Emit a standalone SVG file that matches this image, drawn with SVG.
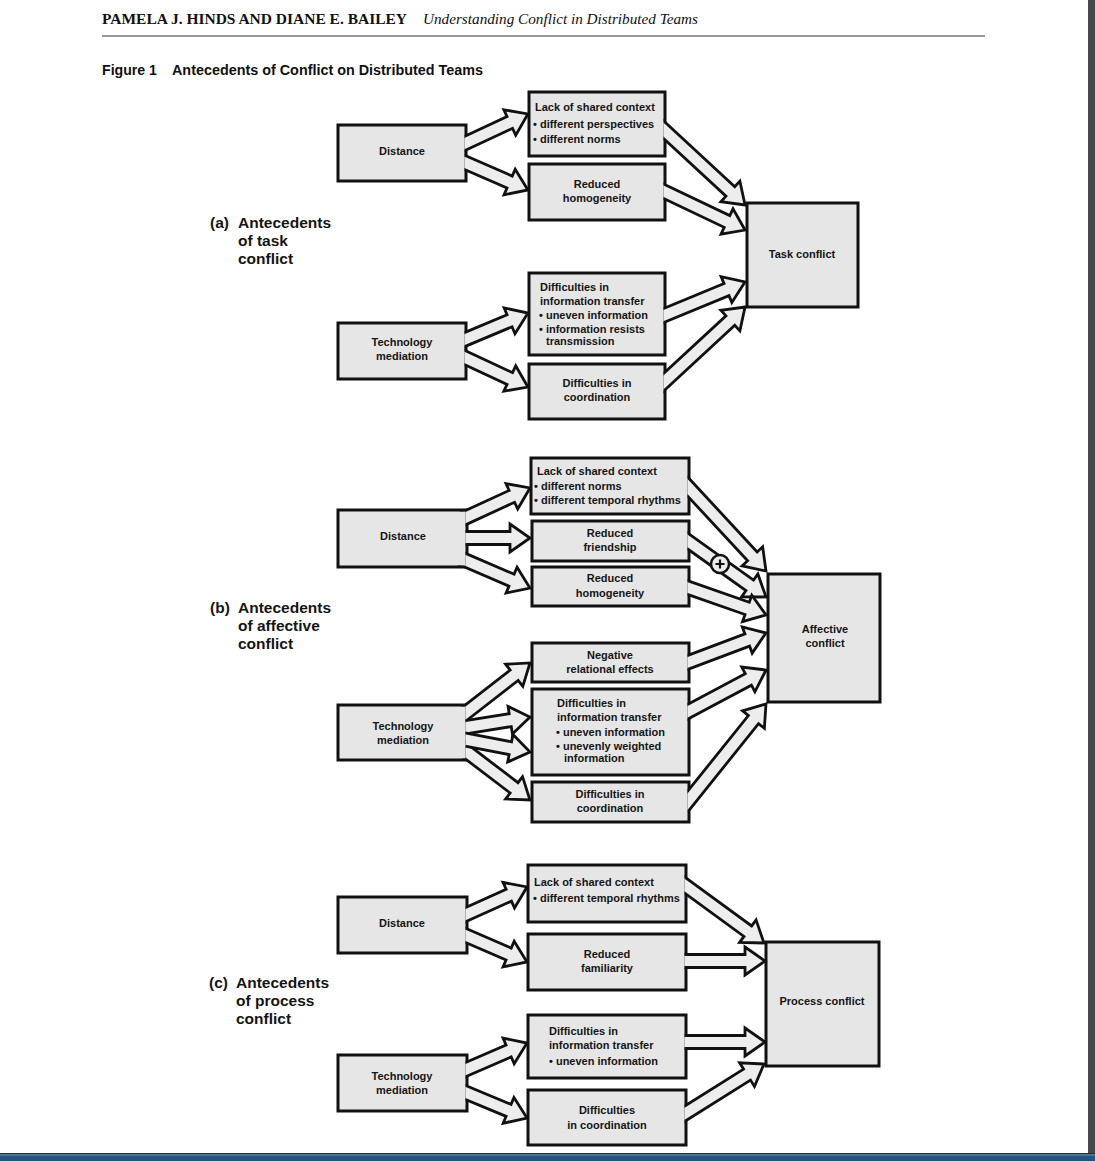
<svg xmlns="http://www.w3.org/2000/svg" width="1095" height="1161" viewBox="0 0 1095 1161">
<style>
.box{fill:#e6e6e6;stroke:#111;stroke-width:3}
.arr{fill:#ededed;stroke:#111;stroke-width:2.8;stroke-linejoin:miter}
.t{font-family:"Liberation Sans",Arial,sans-serif;font-weight:bold;font-size:11px;fill:#151515}
.c{text-anchor:middle}
.lab{font-family:"Liberation Sans",Arial,sans-serif;font-weight:bold;font-size:15.5px;fill:#151515}
</style>
<defs>
<clipPath id="cut">
<path clip-rule="evenodd" d="M0,0H1095V1161H0Z
M339.5,126.5h125v53h-125Z M530.5,93.5h133v61h-133Z M530.5,165.5h133v53h-133Z M530.5,274.5h133v79h-133Z M339.5,324.5h125v53h-125Z M530.5,365.5h133v52h-133Z
M339.5,511.5h126v54h-126Z M532.5,459.5h155v53h-155Z M533.5,522.5h154v37h-154Z M533.5,568.5h154v36h-154Z M533.5,644.5h154v36h-154Z M533.5,690.5h154v83h-154Z M339.5,706.5h126v52h-126Z M533.5,783.5h154v37h-154Z
M339.5,898.5h126v53h-126Z M529.5,866.5h155v54h-155Z M529.5,935.5h155v53h-155Z M529.5,1016.5h155v60h-155Z M339.5,1056.5h126v53h-126Z M529.5,1091.5h155v52h-155Z"/>
</clipPath>
</defs>
<rect width="1095" height="1161" fill="#fff"/>

<g id="header">
<text x="102" y="24" font-family="'Liberation Serif',serif" font-weight="bold" font-size="14.5" fill="#111" textLength="305" lengthAdjust="spacingAndGlyphs">PAMELA J. HINDS AND DIANE E. BAILEY</text>
<text x="423" y="24" font-family="'Liberation Serif',serif" font-style="italic" font-size="15" fill="#111" textLength="275" lengthAdjust="spacingAndGlyphs">Understanding Conflict in Distributed Teams</text>
<line x1="102" y1="36" x2="985" y2="36" stroke="#777" stroke-width="1.5"/>
<text x="102" y="75" font-family="'Liberation Sans',Arial,sans-serif" font-weight="bold" font-size="14" fill="#111" textLength="55" lengthAdjust="spacingAndGlyphs">Figure 1</text>
<text x="172" y="75" font-family="'Liberation Sans',Arial,sans-serif" font-weight="bold" font-size="14" fill="#111" textLength="311" lengthAdjust="spacingAndGlyphs">Antecedents of Conflict on Distributed Teams</text>
</g>

<g id="label-a" class="lab"><text x="210" y="228">(a)</text><text x="238" y="228">Antecedents</text><text x="238" y="246">of task</text><text x="238" y="264">conflict</text></g>
<g id="label-b" class="lab"><text x="210" y="613">(b)</text><text x="238" y="613">Antecedents</text><text x="238" y="631">of affective</text><text x="238" y="649">conflict</text></g>
<g id="label-c" class="lab"><text x="209" y="988">(c)</text><text x="236" y="988">Antecedents</text><text x="236" y="1006">of process</text><text x="236" y="1024">conflict</text></g>

<!-- Section a -->
<g id="a-distance"><rect class="box" x="338" y="125" width="128" height="56"/><text class="t c" x="402" y="155">Distance</text></g>
<g id="a-lack"><rect class="box" x="529" y="92" width="136" height="64"/><text class="t" x="535" y="111">Lack of shared context</text><text class="t" x="533" y="128">• different perspectives</text><text class="t" x="533" y="143">• different norms</text></g>
<g id="a-homog"><rect class="box" x="529" y="164" width="136" height="56"/><text class="t c" x="597" y="188">Reduced</text><text class="t c" x="597" y="202">homogeneity</text></g>
<g id="a-task"><rect class="box" x="747" y="203" width="111" height="104"/><text class="t c" x="802" y="258">Task conflict</text></g>
<g id="a-info"><rect class="box" x="529" y="273" width="136" height="82"/><text class="t" x="540" y="291">Difficulties in</text><text class="t" x="540" y="305">information transfer</text><text class="t" x="539" y="319">• uneven information</text><text class="t" x="539" y="333">• information resists</text><text class="t" x="546" y="345">transmission</text></g>
<g id="a-tech"><rect class="box" x="338" y="323" width="128" height="56"/><text class="t c" x="402" y="346">Technology</text><text class="t c" x="402" y="360">mediation</text></g>
<g id="a-coord"><rect class="box" x="529" y="364" width="136" height="55"/><text class="t c" x="597" y="387">Difficulties in</text><text class="t c" x="597" y="401">coordination</text></g>

<!-- Section b -->
<g id="b-distance"><rect class="box" x="338" y="510" width="129" height="57"/><text class="t c" x="403" y="540">Distance</text></g>
<g id="b-lack"><rect class="box" x="531" y="458" width="158" height="56"/><text class="t" x="537" y="475">Lack of shared context</text><text class="t" x="534" y="490">• different norms</text><text class="t" x="534" y="504">• different temporal rhythms</text></g>
<g id="b-friend"><rect class="box" x="532" y="521" width="157" height="40"/><text class="t c" x="610" y="537">Reduced</text><text class="t c" x="610" y="551">friendship</text></g>
<g id="b-homog"><rect class="box" x="532" y="567" width="157" height="39"/><text class="t c" x="610" y="582">Reduced</text><text class="t c" x="610" y="597">homogeneity</text></g>
<g id="b-affective"><rect class="box" x="768" y="574" width="112" height="128"/><text class="t c" x="825" y="633">Affective</text><text class="t c" x="825" y="647">conflict</text></g>
<g id="b-negative"><rect class="box" x="532" y="643" width="157" height="39"/><text class="t c" x="610" y="659">Negative</text><text class="t c" x="610" y="673">relational effects</text></g>
<g id="b-info"><rect class="box" x="532" y="689" width="157" height="86"/><text class="t" x="557" y="707">Difficulties in</text><text class="t" x="557" y="721">information transfer</text><text class="t" x="556" y="736">• uneven information</text><text class="t" x="556" y="750">• unevenly weighted</text><text class="t" x="564" y="762">information</text></g>
<g id="b-tech"><rect class="box" x="338" y="705" width="129" height="55"/><text class="t c" x="403" y="730">Technology</text><text class="t c" x="403" y="744">mediation</text></g>
<g id="b-coord"><rect class="box" x="532" y="782" width="157" height="40"/><text class="t c" x="610" y="798">Difficulties in</text><text class="t c" x="610" y="812">coordination</text></g>

<!-- Section c -->
<g id="c-distance"><rect class="box" x="338" y="897" width="129" height="56"/><text class="t c" x="402" y="927">Distance</text></g>
<g id="c-lack"><rect class="box" x="528" y="865" width="158" height="57"/><text class="t" x="534" y="886">Lack of shared context</text><text class="t" x="533" y="902">• different temporal rhythms</text></g>
<g id="c-familiar"><rect class="box" x="528" y="934" width="158" height="56"/><text class="t c" x="607" y="958">Reduced</text><text class="t c" x="607" y="972">familiarity</text></g>
<g id="c-process"><rect class="box" x="766" y="942" width="113" height="124"/><text class="t c" x="822" y="1005">Process conflict</text></g>
<g id="c-info"><rect class="box" x="528" y="1015" width="158" height="63"/><text class="t" x="549" y="1035">Difficulties in</text><text class="t" x="549" y="1049">information transfer</text><text class="t" x="549" y="1065">• uneven information</text></g>
<g id="c-tech"><rect class="box" x="338" y="1055" width="129" height="56"/><text class="t c" x="402" y="1080">Technology</text><text class="t c" x="402" y="1094">mediation</text></g>
<g id="c-coord"><rect class="box" x="528" y="1090" width="158" height="55"/><text class="t c" x="607" y="1114">Difficulties</text><text class="t c" x="607" y="1129">in coordination</text></g>

<g id="connectors" clip-path="url(#cut)">
<path class="arr" transform="translate(456.9,147.2) rotate(-25.07)" d="M0,-6.5H58.4V-14L78.4,0L58.4,14V6.5H0"/>
<path class="arr" transform="translate(456.8,159) rotate(23.53)" d="M0,-6.5H57.6V-14L77.6,0L57.6,14V6.5H0"/>
<path class="arr" transform="translate(657.7,124.2) rotate(42.77)" d="M0,-6.5H99V-14L119,0L99,14V6.5H0"/>
<path class="arr" transform="translate(656,187.7) rotate(25.41)" d="M0,-6.5H78.6V-14L98.6,0L78.6,14V6.5H0"/>
<path class="arr" transform="translate(655.8,318.8) rotate(-22.42)" d="M0,-6.5H76.5V-14L96.5,0L76.5,14V6.5H0"/>
<path class="arr" transform="translate(657.7,387.8) rotate(-42.77)" d="M0,-6.5H99V-14L119,0L99,14V6.5H0"/>
<path class="arr" transform="translate(456.8,342.9) rotate(-22.75)" d="M0,-6.5H57.2V-14L77.2,0L57.2,14V6.5H0"/>
<path class="arr" transform="translate(456.9,353.8) rotate(25.07)" d="M0,-6.5H58.4V-14L78.4,0L58.4,14V6.5H0"/>

<path class="arr" transform="translate(457.9,521.2) rotate(-24.72)" d="M0,-6.5H59.4V-14L79.4,0L59.4,14V6.5H0"/>
<path class="arr" transform="translate(457.8,557.1) rotate(23.2)" d="M0,-6.5H58.5V-14L78.5,0L58.5,14V6.5H0"/>
<path class="arr" transform="translate(457,538)" d="M0,-6.5H53V-14L73,0L53,14V6.5H0"/>
<path class="arr" transform="translate(682.2,480.7) rotate(47.15)" d="M0,-6.5H103.2V-14L123.2,0L103.2,14V6.5H0"/>
<path class="arr" transform="translate(680.9,536.2) rotate(35.54)" d="M0,-6.5H84.6V-14L104.6,0L84.6,14V6.5H0"/>
<path class="arr" transform="translate(679.6,584.7) rotate(19.32)" d="M0,-6.5H71.6V-14L91.6,0L71.6,14V6.5H0"/>
<path class="arr" transform="translate(679.6,665.5) rotate(-20.64)" d="M0,-6.5H72.3V-14L92.3,0L72.3,14V6.5H0"/>
<path class="arr" transform="translate(680.2,715.7) rotate(-28.03)" d="M0,-6.5H77.2V-14L97.2,0L77.2,14V6.5H0"/>
<path class="arr" transform="translate(682.7,807.8) rotate(-51.27)" d="M0,-6.5H113.1V-14L133.1,0L113.1,14V6.5H0"/>
<path class="arr" transform="translate(459.1,718.1) rotate(-37.87)" d="M0,-6.5H69.8V-14L89.8,0L69.8,14V6.5H0"/>
<path class="arr" transform="translate(459,745.9) rotate(37.3)" d="M0,-6.5H69.2V-14L89.2,0L69.2,14V6.5H0"/>
<path class="arr" transform="translate(457.1,728.6) rotate(-9.02)" d="M0,-6.5H53.8V-14L73.8,0L53.8,14V6.5H0"/>
<path class="arr" transform="translate(457.2,738.1) rotate(10.78)" d="M0,-6.5H54.1V-14L74.1,0L54.1,14V6.5H0"/>

<path class="arr" transform="translate(457.9,918.1) rotate(-24.23)" d="M0,-6.5H55.8V-14L75.8,0L55.8,14V6.5H0"/>
<path class="arr" transform="translate(457.8,932) rotate(23.43)" d="M0,-6.5H55.4V-14L75.4,0L55.4,14V6.5H0"/>
<path class="arr" transform="translate(677.9,880.1) rotate(36.16)" d="M0,-6.5H86.6V-14L106.6,0L86.6,14V6.5H0"/>
<path class="arr" transform="translate(676,961)" d="M0,-6.5H69V-14L89,0L69,14V6.5H0"/>
<path class="arr" transform="translate(676,1042)" d="M0,-6.5H69V-14L89,0L69,14V6.5H0"/>
<path class="arr" transform="translate(677.5,1118.3) rotate(-32.14)" d="M0,-6.5H82.1V-14L102.1,0L82.1,14V6.5H0"/>
<path class="arr" transform="translate(457.8,1073) rotate(-23.43)" d="M0,-6.5H55.4V-14L75.4,0L55.4,14V6.5H0"/>
<path class="arr" transform="translate(457.8,1089.2) rotate(22.62)" d="M0,-6.5H55V-14L75,0L55,14V6.5H0"/>
</g>

<g id="plus-sign">
<circle cx="720" cy="564" r="9" fill="#ededed" stroke="#111" stroke-width="2.5"/>
<path d="M715.5,564H724.5M720,559.5V568.5" stroke="#111" stroke-width="2.2" fill="none"/>
</g>

<g id="frame">
<rect x="1088" y="0" width="7" height="1161" fill="#46494c"/>
<rect x="0" y="1153" width="1095" height="8" fill="#23557e"/>
<rect x="0" y="1153" width="1095" height="1" fill="#2b2f33"/>
<rect x="0" y="1154.5" width="1095" height="1" fill="#6f93b0"/>
</g>
</svg>
